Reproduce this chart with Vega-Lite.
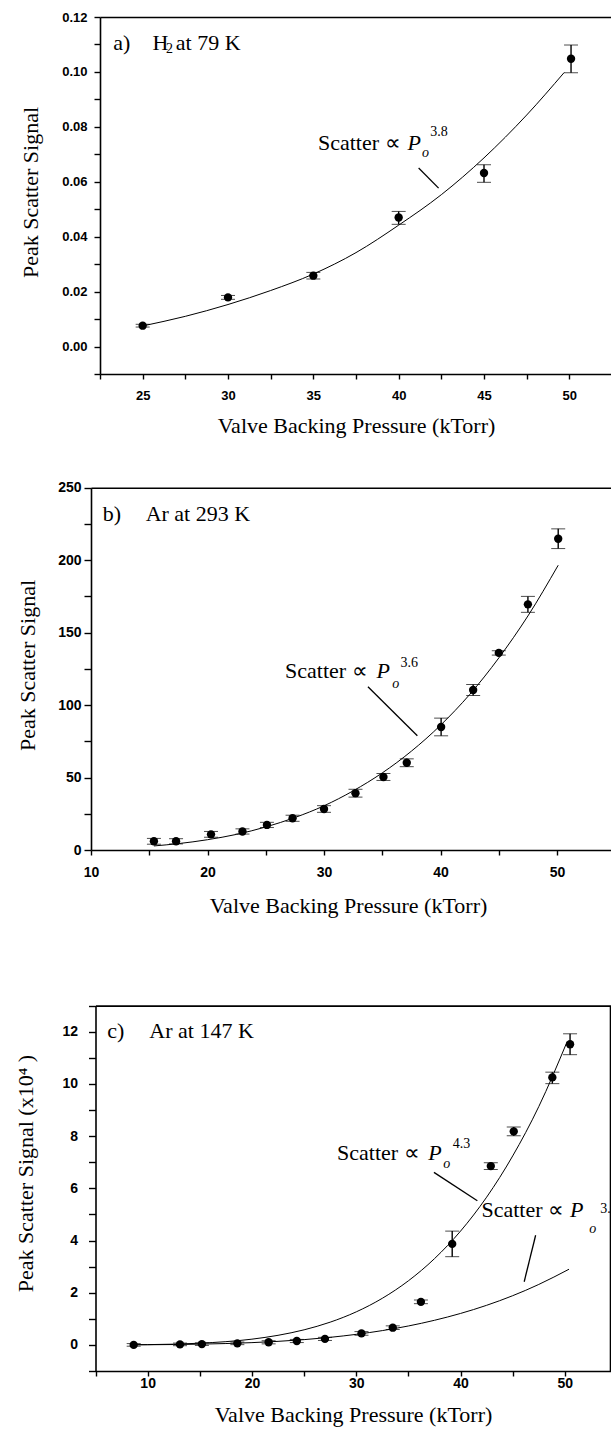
{
  "$schema": "https://vega.github.io/schema/vega-lite/v6.json",
  "width": 611,
  "height": 1437,
  "autosize": {"type": "none"},
  "padding": 0,
  "background": "white",
  "config": {
    "view": {"stroke": null},
    "axis": {"grid": false, "domainColor": "black", "tickColor": "black", "labelColor": "black", "titleColor": "black", "labelFont": "Liberation Sans", "labelFontWeight": "bold", "titleFont": "Liberation Serif", "titleFontWeight": "normal", "titleFontSize": 22, "domainWidth": 1.6, "tickWidth": 1.4, "labelOverlap": false, "labelFlush": false, "labelBound": false}
  },
  "datasets": {
    "pa": [
      {"P": 25, "S": 0.0076, "lo": 0.0071, "hi": 0.0081},
      {"P": 30, "S": 0.0179, "lo": 0.0172, "hi": 0.0186},
      {"P": 35, "S": 0.0258, "lo": 0.0246, "hi": 0.027},
      {"P": 40, "S": 0.047, "lo": 0.0445, "hi": 0.0492},
      {"P": 45, "S": 0.0632, "lo": 0.0598, "hi": 0.0662},
      {"P": 50.1, "S": 0.1048, "lo": 0.0997, "hi": 0.1098}
    ],
    "fa": [
      {"P": 25, "S": 0.0075}, {"P": 27.5, "S": 0.011}, {"P": 30, "S": 0.0153}, {"P": 32.5, "S": 0.0204},
      {"P": 35, "S": 0.0264}, {"P": 37.5, "S": 0.0342}, {"P": 40, "S": 0.0442}, {"P": 42.5, "S": 0.0553},
      {"P": 45, "S": 0.0687}, {"P": 47.5, "S": 0.0843}, {"P": 49.7, "S": 0.0998}
    ],
    "ta": [
      {"r": "n", "t": "a)", "x": 23.28, "y": 0.1081},
      {"r": "n", "t": "H", "x": 25.57, "y": 0.1081},
      {"r": "sm", "t": "2", "x": 26.37, "y": 0.1068},
      {"r": "n", "t": "at 79 K", "x": 26.94, "y": 0.1081},
      {"r": "n", "t": "Scatter ∝", "x": 35.27, "y": 0.0717},
      {"r": "it", "t": "P", "x": 40.52, "y": 0.0717},
      {"r": "io", "t": "o", "x": 41.37, "y": 0.0691},
      {"r": "sm", "t": "3.8", "x": 41.85, "y": 0.0765}
    ],
    "la": [{"x": 41.17, "y": 0.065, "x2": 42.34, "y2": 0.0577}],
    "pb": [
      {"P": 15.4, "S": 6.0, "lo": 4.0, "hi": 8.0},
      {"P": 17.3, "S": 6.0, "lo": 4.2, "hi": 7.8},
      {"P": 20.3, "S": 10.8, "lo": 8.8, "hi": 12.8},
      {"P": 23.0, "S": 12.8, "lo": 11.0, "hi": 14.6},
      {"P": 25.1, "S": 17.3, "lo": 15.5, "hi": 19.1},
      {"P": 27.3, "S": 21.9, "lo": 19.8, "hi": 24.0},
      {"P": 30.0, "S": 28.3, "lo": 26.0, "hi": 30.6},
      {"P": 32.7, "S": 39.2, "lo": 36.5, "hi": 41.9},
      {"P": 35.1, "S": 50.4, "lo": 48.0, "hi": 52.8},
      {"P": 37.1, "S": 60.2, "lo": 57.5, "hi": 62.9},
      {"P": 40.05, "S": 84.9, "lo": 78.8, "hi": 91.0},
      {"P": 42.8, "S": 110.4, "lo": 106.6, "hi": 114.2},
      {"P": 45.0, "S": 136.0, "lo": 134.5, "hi": 137.5},
      {"P": 47.5, "S": 169.5, "lo": 164.0, "hi": 175.0},
      {"P": 50.1, "S": 214.8, "lo": 208.0, "hi": 221.6}
    ],
    "fb": [
      {"P": 15.4, "S": 2.8}, {"P": 17.5, "S": 4.4}, {"P": 20, "S": 7.1}, {"P": 22.5, "S": 10.8},
      {"P": 25, "S": 15.9}, {"P": 27.5, "S": 22.4}, {"P": 30, "S": 30.5}, {"P": 32.5, "S": 40.8},
      {"P": 35, "S": 53.2}, {"P": 37.5, "S": 68.2}, {"P": 40, "S": 86.1}, {"P": 42.5, "S": 107.3},
      {"P": 45, "S": 132.5}, {"P": 47.5, "S": 161.5}, {"P": 50.1, "S": 196.5}
    ],
    "tb": [
      {"r": "n", "t": "b)", "x": 11.0, "y": 227.2},
      {"r": "n", "t": "Ar at 293 K", "x": 14.69, "y": 227.2},
      {"r": "n", "t": "Scatter ∝", "x": 26.66, "y": 119.0},
      {"r": "it", "t": "P", "x": 34.51, "y": 119.0},
      {"r": "io", "t": "o", "x": 35.86, "y": 112.1},
      {"r": "sm", "t": "3.6", "x": 36.57, "y": 126.4}
    ],
    "lb": [{"x": 33.77, "y": 112.6, "x2": 38.01, "y2": 78.8}],
    "pc": [
      {"P": 8.66, "S": 0.0, "lo": -0.05, "hi": 0.05},
      {"P": 13.1, "S": 0.02, "lo": -0.03, "hi": 0.07},
      {"P": 15.2, "S": 0.03, "lo": -0.02, "hi": 0.08},
      {"P": 18.6, "S": 0.06, "lo": 0.01, "hi": 0.11},
      {"P": 21.6, "S": 0.1, "lo": 0.04, "hi": 0.16},
      {"P": 24.3, "S": 0.15, "lo": 0.09, "hi": 0.21},
      {"P": 27.0, "S": 0.23, "lo": 0.17, "hi": 0.29},
      {"P": 30.5, "S": 0.44, "lo": 0.37, "hi": 0.51},
      {"P": 33.5, "S": 0.66, "lo": 0.59, "hi": 0.73},
      {"P": 36.2, "S": 1.65, "lo": 1.58, "hi": 1.72},
      {"P": 39.2, "S": 3.87, "lo": 3.38, "hi": 4.36},
      {"P": 42.9, "S": 6.85, "lo": 6.72, "hi": 6.98},
      {"P": 45.1, "S": 8.18, "lo": 8.01, "hi": 8.35},
      {"P": 48.8, "S": 10.25, "lo": 10.01, "hi": 10.45},
      {"P": 50.5, "S": 11.52, "lo": 11.12, "hi": 11.92}
    ],
    "fc": [
      {"c": "4.3", "P": 8.66, "S": 0.006}, {"c": "4.3", "P": 10, "S": 0.011}, {"c": "4.3", "P": 15, "S": 0.064},
      {"c": "4.3", "P": 20, "S": 0.22}, {"c": "4.3", "P": 22.5, "S": 0.367}, {"c": "4.3", "P": 25, "S": 0.578},
      {"c": "4.3", "P": 27.5, "S": 0.871}, {"c": "4.3", "P": 30, "S": 1.266}, {"c": "4.3", "P": 32.5, "S": 1.786},
      {"c": "4.3", "P": 35, "S": 2.456}, {"c": "4.3", "P": 37.5, "S": 3.304}, {"c": "4.3", "P": 40, "S": 4.36},
      {"c": "4.3", "P": 42.5, "S": 5.66}, {"c": "4.3", "P": 45, "S": 7.24}, {"c": "4.3", "P": 47.5, "S": 9.13},
      {"c": "4.3", "P": 50.2, "S": 11.6},
      {"c": "3.8", "P": 8.66, "S": 0.004}, {"c": "3.8", "P": 10, "S": 0.006}, {"c": "3.8", "P": 15, "S": 0.029},
      {"c": "3.8", "P": 20, "S": 0.087}, {"c": "3.8", "P": 25, "S": 0.202}, {"c": "3.8", "P": 27.5, "S": 0.29},
      {"c": "3.8", "P": 30, "S": 0.404}, {"c": "3.8", "P": 32.5, "S": 0.548}, {"c": "3.8", "P": 35, "S": 0.725},
      {"c": "3.8", "P": 37.5, "S": 0.943}, {"c": "3.8", "P": 40, "S": 1.205}, {"c": "3.8", "P": 42.5, "S": 1.517},
      {"c": "3.8", "P": 45, "S": 1.885}, {"c": "3.8", "P": 47.5, "S": 2.316}, {"c": "3.8", "P": 50.4, "S": 2.9}
    ],
    "tc": [
      {"r": "n", "t": "c)", "x": 6.12, "y": 11.76},
      {"r": "n", "t": "Ar at 147 K", "x": 10.16, "y": 11.76},
      {"r": "n", "t": "Scatter ∝", "x": 28.16, "y": 7.08},
      {"r": "it", "t": "P", "x": 36.91, "y": 7.08},
      {"r": "io", "t": "o", "x": 38.35, "y": 6.78},
      {"r": "sm", "t": "4.3", "x": 39.25, "y": 7.53},
      {"r": "n", "t": "Scatter ∝", "x": 42.0, "y": 4.89},
      {"r": "it", "t": "P", "x": 50.5, "y": 4.89},
      {"r": "io", "t": "o", "x": 52.35, "y": 4.29},
      {"r": "sm", "t": "3.8", "x": 53.4, "y": 5.04}
    ],
    "lc": [
      {"x": 37.45, "y": 6.61, "x2": 41.61, "y2": 5.52},
      {"x": 47.2, "y": 4.2, "x2": 46.1, "y2": 2.42}
    ]
  },
  "resolve": {"scale": {"x": "independent", "y": "independent"}, "axis": {"x": "independent", "y": "independent"}},
  "layer": [
    {
      "resolve": {"axis": {"x": "independent", "y": "independent"}},
      "layer": [
        {
          "data": {"name": "pa"},
          "mark": {"type": "circle", "size": 70, "color": "black", "opacity": 1},
          "encoding": {
            "x": {"field": "P", "type": "quantitative",
              "scale": {"domain": [22.5, 52.5], "range": [100, 612], "nice": false, "zero": false},
              "axis": {"orient": "bottom", "offset": -1063, "values": [22.5, 25, 27.5, 30, 32.5, 35, 37.5, 40, 42.5, 45, 47.5, 50, 52.5],
                "labelExpr": "datum.value % 5 === 0 ? datum.label : ''", "tickSize": 5, "labelPadding": 16, "labelBaseline": "middle", "labelFontSize": 13,
                "title": "Valve Backing Pressure (kTorr)", "titleX": 356, "titleY": 58, "titleBaseline": "alphabetic"}},
            "y": {"field": "S", "type": "quantitative",
              "scale": {"domain": [-0.01, 0.12], "range": [374, 17], "nice": false, "zero": false},
              "axis": {"orient": "left", "offset": -100, "values": [-0.01, 0, 0.01, 0.02, 0.03, 0.04, 0.05, 0.06, 0.07, 0.08, 0.09, 0.1, 0.11, 0.12],
                "labelExpr": "(round(datum.value*100) % 2 === 0 && datum.value > -0.005) ? format(datum.value, '.2f') : ''", "tickSize": 6, "labelPadding": 7, "labelFontSize": 13,
                "title": "Peak Scatter Signal", "titleX": -70, "titleY": 192, "titleBaseline": "middle"}}
          }
        },
        {
          "data": {"name": "pa"},
          "mark": {"type": "errorbar", "color": "black", "ticks": {"size": 14, "color": "black", "strokeWidth": 1.4}, "rule": {"color": "black", "strokeWidth": 1.4}},
          "encoding": {
            "x": {"field": "P", "type": "quantitative", "axis": null},
            "y": {"field": "lo", "type": "quantitative", "axis": null},
            "y2": {"field": "hi"}
          }
        },
        {
          "data": {"name": "fa"},
          "mark": {"type": "line", "color": "black", "strokeWidth": 1, "interpolate": "monotone"},
          "encoding": {
            "x": {"field": "P", "type": "quantitative", "axis": {"orient": "top", "offset": -17, "ticks": false, "labels": false, "title": null}},
            "y": {"field": "S", "type": "quantitative", "axis": null}
          }
        },
        {
          "data": {"name": "la"},
          "mark": {"type": "rule", "color": "black", "strokeWidth": 1.3},
          "encoding": {
            "x": {"field": "x", "type": "quantitative", "axis": null},
            "y": {"field": "y", "type": "quantitative", "axis": null},
            "x2": {"field": "x2"}, "y2": {"field": "y2"}
          }
        },
        {
          "data": {"name": "ta"}, "transform": [{"filter": "datum.r === 'n'"}],
          "mark": {"type": "text", "font": "Liberation Serif", "fontSize": 22, "align": "left", "baseline": "alphabetic", "color": "black"},
          "encoding": {"x": {"field": "x", "type": "quantitative", "axis": null}, "y": {"field": "y", "type": "quantitative", "axis": null}, "text": {"field": "t"}}
        },
        {
          "data": {"name": "ta"}, "transform": [{"filter": "datum.r === 'it'"}],
          "mark": {"type": "text", "font": "Liberation Serif", "fontSize": 22, "fontStyle": "italic", "align": "left", "baseline": "alphabetic", "color": "black"},
          "encoding": {"x": {"field": "x", "type": "quantitative", "axis": null}, "y": {"field": "y", "type": "quantitative", "axis": null}, "text": {"field": "t"}}
        },
        {
          "data": {"name": "ta"}, "transform": [{"filter": "datum.r === 'io'"}],
          "mark": {"type": "text", "font": "Liberation Serif", "fontSize": 14, "fontStyle": "italic", "align": "left", "baseline": "alphabetic", "color": "black"},
          "encoding": {"x": {"field": "x", "type": "quantitative", "axis": null}, "y": {"field": "y", "type": "quantitative", "axis": null}, "text": {"field": "t"}}
        },
        {
          "data": {"name": "ta"}, "transform": [{"filter": "datum.r === 'sm'"}],
          "mark": {"type": "text", "font": "Liberation Serif", "fontSize": 14, "align": "left", "baseline": "alphabetic", "color": "black"},
          "encoding": {"x": {"field": "x", "type": "quantitative", "axis": null}, "y": {"field": "y", "type": "quantitative", "axis": null}, "text": {"field": "t"}}
        }
      ]
    },
    {
      "resolve": {"axis": {"x": "independent", "y": "independent"}},
      "layer": [
        {
          "data": {"name": "pb"},
          "mark": {"type": "circle", "size": 70, "color": "black", "opacity": 1},
          "encoding": {
            "x": {"field": "P", "type": "quantitative",
              "scale": {"domain": [10, 55], "range": [91, 615.3], "nice": false, "zero": false},
              "axis": {"orient": "bottom", "offset": -587, "values": [10, 15, 20, 25, 30, 35, 40, 45, 50, 55],
                "labelExpr": "datum.value % 10 === 0 ? datum.label : ''", "tickSize": 5, "labelPadding": 17, "labelBaseline": "middle", "labelFontSize": 14,
                "title": "Valve Backing Pressure (kTorr)", "titleX": 348, "titleY": 62, "titleBaseline": "alphabetic"}},
            "y": {"field": "S", "type": "quantitative",
              "scale": {"domain": [0, 250], "range": [850, 487.7], "nice": false, "zero": false},
              "axis": {"orient": "left", "offset": -91, "values": [0, 25, 50, 75, 100, 125, 150, 175, 200, 225, 250],
                "labelExpr": "datum.value % 50 === 0 ? datum.label : ''", "tickSize": 7, "labelPadding": 3, "labelFontSize": 14,
                "title": "Peak Scatter Signal", "titleX": -64, "titleY": 665, "titleBaseline": "middle"}}
          }
        },
        {
          "data": {"name": "pb"},
          "mark": {"type": "errorbar", "color": "black", "ticks": {"size": 14, "color": "black", "strokeWidth": 1.4}, "rule": {"color": "black", "strokeWidth": 1.4}},
          "encoding": {
            "x": {"field": "P", "type": "quantitative", "axis": null},
            "y": {"field": "lo", "type": "quantitative", "axis": null},
            "y2": {"field": "hi"}
          }
        },
        {
          "data": {"name": "fb"},
          "mark": {"type": "line", "color": "black", "strokeWidth": 1, "interpolate": "monotone"},
          "encoding": {
            "x": {"field": "P", "type": "quantitative", "axis": {"orient": "top", "offset": -487.7, "ticks": false, "labels": false, "title": null}},
            "y": {"field": "S", "type": "quantitative", "axis": null}
          }
        },
        {
          "data": {"name": "lb"},
          "mark": {"type": "rule", "color": "black", "strokeWidth": 1.3},
          "encoding": {
            "x": {"field": "x", "type": "quantitative", "axis": null},
            "y": {"field": "y", "type": "quantitative", "axis": null},
            "x2": {"field": "x2"}, "y2": {"field": "y2"}
          }
        },
        {
          "data": {"name": "tb"}, "transform": [{"filter": "datum.r === 'n'"}],
          "mark": {"type": "text", "font": "Liberation Serif", "fontSize": 22, "align": "left", "baseline": "alphabetic", "color": "black"},
          "encoding": {"x": {"field": "x", "type": "quantitative", "axis": null}, "y": {"field": "y", "type": "quantitative", "axis": null}, "text": {"field": "t"}}
        },
        {
          "data": {"name": "tb"}, "transform": [{"filter": "datum.r === 'it'"}],
          "mark": {"type": "text", "font": "Liberation Serif", "fontSize": 22, "fontStyle": "italic", "align": "left", "baseline": "alphabetic", "color": "black"},
          "encoding": {"x": {"field": "x", "type": "quantitative", "axis": null}, "y": {"field": "y", "type": "quantitative", "axis": null}, "text": {"field": "t"}}
        },
        {
          "data": {"name": "tb"}, "transform": [{"filter": "datum.r === 'io'"}],
          "mark": {"type": "text", "font": "Liberation Serif", "fontSize": 14, "fontStyle": "italic", "align": "left", "baseline": "alphabetic", "color": "black"},
          "encoding": {"x": {"field": "x", "type": "quantitative", "axis": null}, "y": {"field": "y", "type": "quantitative", "axis": null}, "text": {"field": "t"}}
        },
        {
          "data": {"name": "tb"}, "transform": [{"filter": "datum.r === 'sm'"}],
          "mark": {"type": "text", "font": "Liberation Serif", "fontSize": 14, "align": "left", "baseline": "alphabetic", "color": "black"},
          "encoding": {"x": {"field": "x", "type": "quantitative", "axis": null}, "y": {"field": "y", "type": "quantitative", "axis": null}, "text": {"field": "t"}}
        }
      ]
    },
    {
      "resolve": {"axis": {"x": "independent", "y": "independent"}},
      "layer": [
        {
          "data": {"name": "pc"},
          "mark": {"type": "circle", "size": 70, "color": "black", "opacity": 1},
          "encoding": {
            "x": {"field": "P", "type": "quantitative",
              "scale": {"domain": [5, 55], "range": [95.5, 617], "nice": false, "zero": false},
              "axis": {"orient": "bottom", "offset": -66, "values": [5, 10, 15, 20, 25, 30, 35, 40, 45, 50, 55],
                "labelExpr": "datum.value % 10 === 0 ? datum.label : ''", "tickSize": 5, "labelPadding": 7, "labelBaseline": "middle", "labelFontSize": 14,
                "title": "Valve Backing Pressure (kTorr)", "titleX": 353, "titleY": 50, "titleBaseline": "alphabetic"}},
            "y": {"field": "S", "type": "quantitative",
              "scale": {"domain": [-1, 13], "range": [1371, 1005.6], "nice": false, "zero": false},
              "axis": {"orient": "left", "offset": -95.5, "values": [-1, 0, 1, 2, 3, 4, 5, 6, 7, 8, 9, 10, 11, 12, 13],
                "labelExpr": "(datum.value >= 0 && datum.value <= 12 && datum.value % 2 === 0) ? datum.label : ''", "tickSize": 7, "labelPadding": 11, "labelFontSize": 14,
                "title": "Peak Scatter Signal (x10⁴ )", "titleX": -70, "titleY": 1173, "titleBaseline": "middle"}}
          }
        },
        {
          "data": {"name": "pc"},
          "mark": {"type": "errorbar", "color": "black", "ticks": {"size": 14, "color": "black", "strokeWidth": 1.4}, "rule": {"color": "black", "strokeWidth": 1.4}},
          "encoding": {
            "x": {"field": "P", "type": "quantitative", "axis": null},
            "y": {"field": "lo", "type": "quantitative", "axis": null},
            "y2": {"field": "hi"}
          }
        },
        {
          "data": {"name": "fc"},
          "mark": {"type": "line", "color": "black", "strokeWidth": 1, "interpolate": "monotone"},
          "encoding": {
            "x": {"field": "P", "type": "quantitative", "axis": {"orient": "top", "offset": -1005.6, "ticks": false, "labels": false, "title": null}},
            "y": {"field": "S", "type": "quantitative", "axis": {"orient": "right", "offset": -1, "ticks": false, "labels": false, "title": null}},
            "detail": {"field": "c"}
          }
        },
        {
          "data": {"name": "lc"},
          "mark": {"type": "rule", "color": "black", "strokeWidth": 1.3},
          "encoding": {
            "x": {"field": "x", "type": "quantitative", "axis": null},
            "y": {"field": "y", "type": "quantitative", "axis": null},
            "x2": {"field": "x2"}, "y2": {"field": "y2"}
          }
        },
        {
          "data": {"name": "tc"}, "transform": [{"filter": "datum.r === 'n'"}],
          "mark": {"type": "text", "font": "Liberation Serif", "fontSize": 22, "align": "left", "baseline": "alphabetic", "color": "black"},
          "encoding": {"x": {"field": "x", "type": "quantitative", "axis": null}, "y": {"field": "y", "type": "quantitative", "axis": null}, "text": {"field": "t"}}
        },
        {
          "data": {"name": "tc"}, "transform": [{"filter": "datum.r === 'it'"}],
          "mark": {"type": "text", "font": "Liberation Serif", "fontSize": 22, "fontStyle": "italic", "align": "left", "baseline": "alphabetic", "color": "black"},
          "encoding": {"x": {"field": "x", "type": "quantitative", "axis": null}, "y": {"field": "y", "type": "quantitative", "axis": null}, "text": {"field": "t"}}
        },
        {
          "data": {"name": "tc"}, "transform": [{"filter": "datum.r === 'io'"}],
          "mark": {"type": "text", "font": "Liberation Serif", "fontSize": 14, "fontStyle": "italic", "align": "left", "baseline": "alphabetic", "color": "black"},
          "encoding": {"x": {"field": "x", "type": "quantitative", "axis": null}, "y": {"field": "y", "type": "quantitative", "axis": null}, "text": {"field": "t"}}
        },
        {
          "data": {"name": "tc"}, "transform": [{"filter": "datum.r === 'sm'"}],
          "mark": {"type": "text", "font": "Liberation Serif", "fontSize": 14, "align": "left", "baseline": "alphabetic", "color": "black"},
          "encoding": {"x": {"field": "x", "type": "quantitative", "axis": null}, "y": {"field": "y", "type": "quantitative", "axis": null}, "text": {"field": "t"}}
        }
      ]
    }
  ]
}
